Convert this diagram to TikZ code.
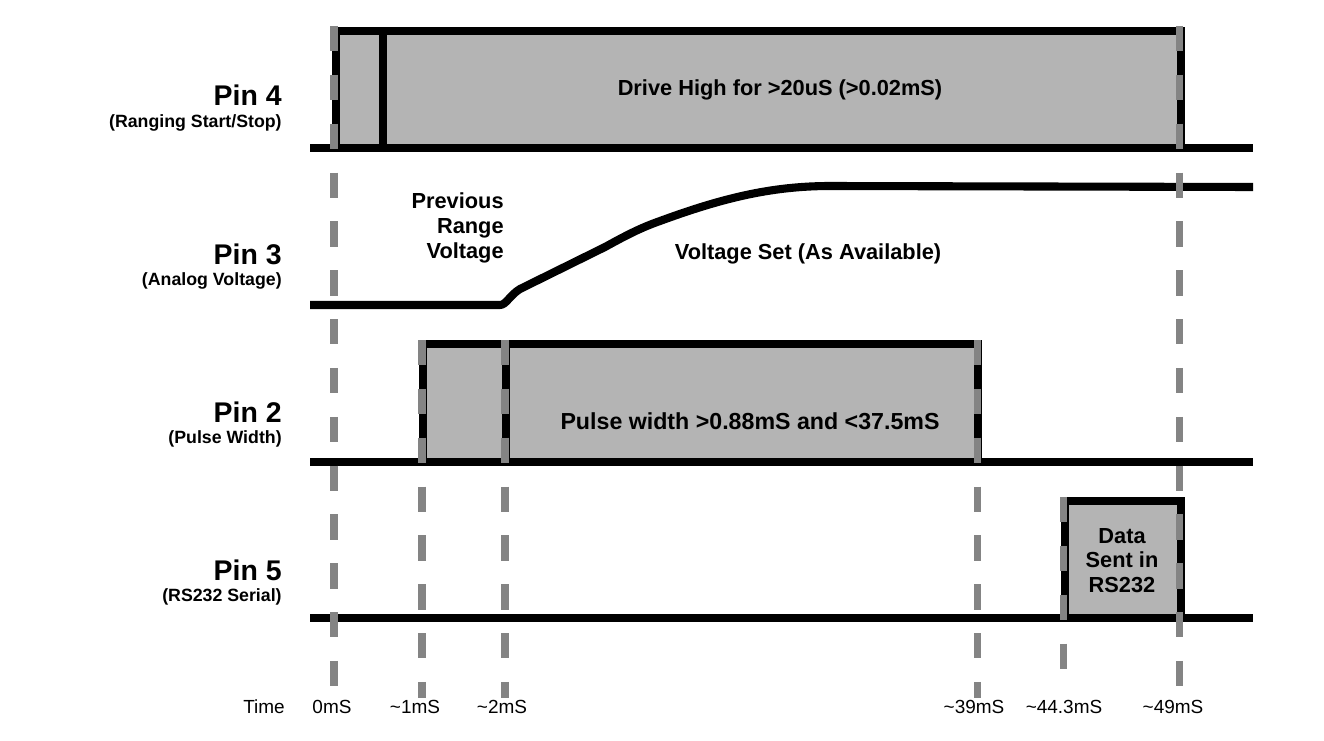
\documentclass[tikz,border=0pt]{standalone}
\usepackage{fontspec}
\setmainfont{Liberation Sans}
\definecolor{boxgray}{RGB}{180,180,180}
\definecolor{tickgray}{RGB}{132,132,132}
\begin{document}
\begin{tikzpicture}[x=0.02cm,y=-0.02cm,
  sig/.style={line width=4.6pt, black, line join=miter},
  wave/.style={line width=4.6pt, black, line join=round},
  tick/.style={line width=4pt, draw=tickgray, dash pattern=on 14.4pt off 13.4pt},
  pinlbl/.style={anchor=base east, font=\bfseries\fontsize{16.2}{18}\selectfont, inner sep=0pt},
  pinsub/.style={anchor=base east, font=\bfseries\fontsize{10.1}{12}\selectfont, inner sep=0pt},
  lbl/.style={font=\bfseries\fontsize{12.4}{14}\selectfont, align=center, inner sep=0pt},
  tlbl/.style={anchor=base, font=\fontsize{10.8}{12}\selectfont, inner sep=0pt}
]
\useasboundingbox (0,0) rectangle (1324,740);

% ---------- Pin labels ----------
\node[pinlbl] (p4) at (282,106) {Pin 4};
\node[pinsub] (p4s) at (282,127) {(Ranging Start/Stop)};
\node[pinlbl] (p3) at (282,264) {Pin 3};
\node[pinsub] (p3s) at (282,285) {(Analog Voltage)};
\node[pinlbl] (p2) at (282,422) {Pin 2};
\node[pinsub] (p2s) at (282,443) {(Pulse Width)};
\node[pinlbl] (p5) at (282,580) {Pin 5};
\node[pinsub] (p5s) at (282,601) {(RS232 Serial)};

% ---------- Pin 4 ----------
\fill[boxgray] (336,31) rectangle (1181,148);
\draw[sig] (336,148) -- (336,31) -- (1181,31) -- (1181,148);
\draw[sig] (383,31) -- (383,148);
\draw[sig] (310,148) -- (1253,148);
\node[lbl] (t4) at (780,90) {Drive High for >20uS (>0.02mS)};

% ---------- Pin 3 ----------
\draw[wave] (310,305) -- (500,305)
  .. controls (506,305) and (510,295) .. (520,289)
  -- (605,247)
  .. controls (625,236) and (640,228) .. (660,221)
  .. controls (720,199) and (770,186) .. (830,186)
  -- (1253,187);
\node[lbl, anchor=base east] (prev1) at (504,208) {Previous};
\node[lbl, anchor=base east] (prev2) at (504,233) {Range};
\node[lbl, anchor=base east] (prev3) at (504,258) {Voltage};
\node[lbl] (t3) at (808,254) {Voltage Set (As Available)};

% ---------- Pin 2 ----------
\fill[boxgray] (423,344) rectangle (978,462);
\draw[sig] (423,462) -- (423,344) -- (978,344) -- (978,462);
\draw[sig] (506,344) -- (506,462);
\draw[sig] (310,462) -- (1253,462);
\node[lbl, font=\bfseries\fontsize{13.2}{15}\selectfont] (t2) at (750,421) {Pulse width >0.88mS and <37.5mS};

% ---------- Pin 5 ----------
\fill[boxgray] (1065,501) rectangle (1181,618);
\draw[sig] (1065,618) -- (1065,501) -- (1181,501) -- (1181,618);
\draw[sig] (310,618) -- (1253,618);
\node[lbl, anchor=base] (d1) at (1122,543) {Data};
\node[lbl, anchor=base] (d2) at (1122,567) {Sent in};
\node[lbl, anchor=base] (d3) at (1122,592) {RS232};

% ---------- time markers ----------
\coordinate (m0a) at (334,26);   \coordinate (m0b) at (334,690);
\coordinate (m1a) at (422,340);  \coordinate (m1b) at (422,698);
\coordinate (m2a) at (505,340);  \coordinate (m2b) at (505,698);
\coordinate (m3a) at (977,340);  \coordinate (m3b) at (977,698);
\coordinate (m4a) at (1063,497); \coordinate (m4b) at (1063,671);
\coordinate (m5a) at (1179,26);  \coordinate (m5b) at (1179,691);
\draw[tick] (m0a) -- (m0b);
\draw[tick] (m1a) -- (m1b);
\draw[tick] (m2a) -- (m2b);
\draw[tick] (m3a) -- (m3b);
\draw[tick] (m4a) -- (m4b);
\draw[tick] (m5a) -- (m5b);

% ---------- time labels ----------
\node[tlbl] (tt) at (264,713) {Time};
\node[tlbl] (t0) at (332,713) {0mS};
\node[tlbl] (t1) at (415,713) {\textasciitilde1mS};
\node[tlbl] (t2l) at (502,713) {\textasciitilde2mS};
\node[tlbl] (t39) at (974,713) {\textasciitilde39mS};
\node[tlbl] (t44) at (1064,713) {\textasciitilde44.3mS};
\node[tlbl] (t49) at (1173,713) {\textasciitilde49mS};
\end{tikzpicture}
\end{document}
